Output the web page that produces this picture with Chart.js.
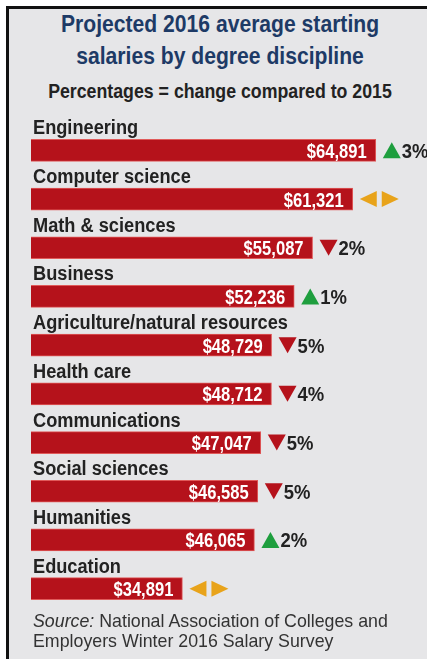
<!DOCTYPE html>
<html>
<head>
<meta charset="utf-8">
<script src="https://cdn.jsdelivr.net/npm/chart.js@4.4.1/dist/chart.umd.min.js"></script>
<style>
  body { margin: 0; background: #fff; width: 427px; height: 659px; overflow: hidden; position: relative; }
  #frame { position: absolute; left: 6px; top: 6px; right: -10px; bottom: -10px;
    border-left: 3px solid #111; border-top: 3px solid #111; background: #e6e6e8; }
  .t { position: absolute; left: 0; width: 440px; text-align: center; white-space: nowrap;
    font-family: "Liberation Sans", Arial, sans-serif; font-weight: bold; transform-origin: 220px 0; }
  .title { color: #1d3a66; font-size: 24px; line-height: 24px; transform: scaleX(0.88); }
  .sub { color: #222; font-size: 21px; line-height: 21px; transform: scaleX(0.845); }
  #source { position: absolute; left: 33px; top: 611px; font-family: "Liberation Sans", sans-serif;
    font-size: 17.8px; line-height: 20px; color: #333; white-space: nowrap; }
  canvas { position: absolute; left: 0; top: 0; }
</style>
</head>
<body>
<div id="frame"></div>
<div class="t title" style="top:12px">Projected 2016 average starting</div>
<div class="t title" style="top:44px">salaries by degree discipline</div>
<div class="t sub" style="top:80px">Percentages = change compared to 2015</div>
<canvas id="chart" width="427" height="659"></canvas>
<div id="source"><i>Source:</i> National Association of Colleges and<br>Employers Winter 2016 Salary Survey</div>
<script>
const categories = ["Engineering", "Computer science", "Math & sciences", "Business",
  "Agriculture/natural resources", "Health care", "Communications", "Social sciences",
  "Humanities", "Education"];
const salaries = [64891, 61321, 55087, 52236, 48729, 48712, 47047, 46585, 46065, 34891];
const changes = [3, 0, -2, 1, -5, -4, -5, -5, 2, 0];

const RED = "#b5121b";
const GREEN = "#1e9e3e";
const ORANGE = "#e8a31a";
const FAMILY = '"Liberation Sans", Arial, sans-serif';

// draw text squeezed horizontally to fake a condensed face
function narrowText(ctx, text, x, y, align, size, squeeze) {
  ctx.save();
  ctx.font = "bold " + size + "px " + FAMILY;
  ctx.translate(x, y);
  ctx.scale(squeeze, 1);
  ctx.textAlign = align;
  ctx.fillText(text, 0, 0);
  ctx.restore();
}

function tri(ctx, pts, color) {
  ctx.fillStyle = color;
  ctx.beginPath();
  ctx.moveTo(pts[0][0], pts[0][1]);
  ctx.lineTo(pts[1][0], pts[1][1]);
  ctx.lineTo(pts[2][0], pts[2][1]);
  ctx.closePath();
  ctx.fill();
}

const labelPlugin = {
  id: "labels",
  afterDatasetsDraw(chart) {
    const ctx = chart.ctx;
    const meta = chart.getDatasetMeta(0);
    ctx.save();
    ctx.textBaseline = "alphabetic";
    meta.data.forEach((bar, i) => {
      const top = bar.y - bar.height / 2;

      ctx.fillStyle = "#222";
      narrowText(ctx, categories[i], 33, top - 5, "left", 20, 0.91);

      ctx.fillStyle = "#fff";
      narrowText(ctx, "$" + salaries[i].toLocaleString("en-US"), bar.x - 9, bar.y + 7.5, "right", 21, 0.79);

      const x0 = bar.x + 7;
      const y = bar.y;
      if (changes[i] > 0) {
        tri(ctx, [[x0, y + 8], [x0 + 18, y + 8], [x0 + 9, y - 8]], GREEN);
      } else if (changes[i] < 0) {
        tri(ctx, [[x0, y - 8], [x0 + 18, y - 8], [x0 + 9, y + 8]], RED);
      } else {
        tri(ctx, [[x0 + 17, y - 8], [x0 + 17, y + 8], [x0, y]], ORANGE);
        tri(ctx, [[x0 + 22, y - 8], [x0 + 22, y + 8], [x0 + 39, y]], ORANGE);
      }
      if (changes[i] !== 0) {
        ctx.fillStyle = "#222";
        narrowText(ctx, Math.abs(changes[i]) + "%", x0 + 19, y + 7.5, "left", 21, 0.88);
      }
    });
    ctx.restore();
  }
};

new Chart(document.getElementById("chart"), {
  type: "bar",
  data: {
    labels: categories,
    datasets: [{
      data: salaries,
      backgroundColor: RED,
      borderColor: "#e05a5a",
      borderWidth: 1,
      borderSkipped: false,
      barThickness: 22
    }]
  },
  options: {
    indexAxis: "y",
    responsive: false,
    animation: false,
    devicePixelRatio: 1,
    layout: { padding: { left: 31, right: 17, top: 126, bottom: 46 } },
    plugins: { legend: { display: false }, tooltip: { enabled: false } },
    scales: {
      x: { display: false, min: 11400, max: 70200 },
      y: { display: false }
    }
  },
  plugins: [labelPlugin]
});
</script>
</body>
</html>
